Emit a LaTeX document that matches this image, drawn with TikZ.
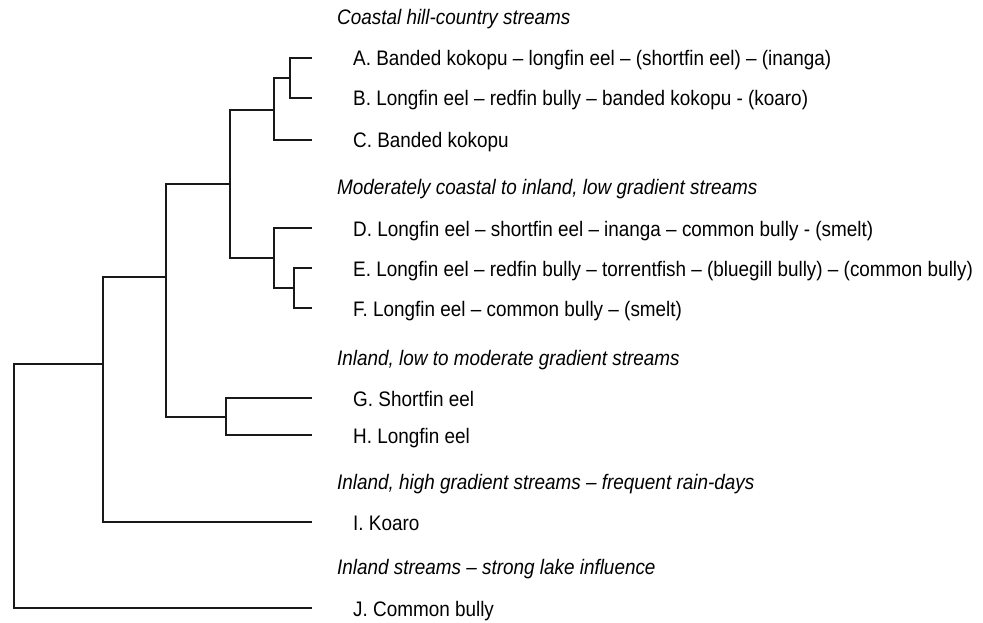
\documentclass[tikz,border=0pt]{standalone}
\usepackage{fontspec}
\setmainfont{Liberation Sans}[FakeStretch=0.90]
\begin{document}
\begin{tikzpicture}[x=1pt,y=-1pt,
  branch/.style={draw=black!90,line width=1.2pt},
  leaflabel/.style={anchor=base west,inner sep=0pt,font=\fontsize{21}{25}\selectfont},
  grouplabel/.style={anchor=base west,inner sep=0pt,font=\fontsize{21}{25}\selectfont\itshape}]
\useasboundingbox (0,0) rectangle (983,623);
% leaf ends
\coordinate (lA) at (312,58);
\coordinate (lB) at (312,98);
\coordinate (lC) at (312,140);
\coordinate (lD) at (312,228);
\coordinate (lE) at (312,268);
\coordinate (lF) at (312,308);
\coordinate (lG) at (312,398);
\coordinate (lH) at (312,435);
\coordinate (lI) at (312,522);
\coordinate (lJ) at (312,608);
% junctions
\coordinate (nAB) at (290,78);
\coordinate (nABC) at (274,110);
\coordinate (nEF) at (294,288);
\coordinate (nDEF) at (274,258);
\coordinate (n1) at (230,184);
\coordinate (nGH) at (226,417);
\coordinate (n2) at (166,277);
\coordinate (n3) at (103,364);
\coordinate (root) at (14,480);
% branches
\draw[branch] (nAB) |- (lA);
\draw[branch] (nAB) |- (lB);
\draw[branch] (nABC) |- (nAB);
\draw[branch] (nABC) |- (lC);
\draw[branch] (nEF) |- (lE);
\draw[branch] (nEF) |- (lF);
\draw[branch] (nDEF) |- (lD);
\draw[branch] (nDEF) |- (nEF);
\draw[branch] (n1) |- (nABC);
\draw[branch] (n1) |- (nDEF);
\draw[branch] (nGH) |- (lG);
\draw[branch] (nGH) |- (lH);
\draw[branch] (n2) |- (n1);
\draw[branch] (n2) |- (nGH);
\draw[branch] (n3) |- (n2);
\draw[branch] (n3) |- (lI);
\draw[branch] (root) |- (n3);
\draw[branch] (root) |- (lJ);
% group headings
\node[grouplabel] (g1) at (337,25) {Coastal hill-country streams};
\node[grouplabel] (g2) at (337,194) {Moderately coastal to inland, low gradient streams};
\node[grouplabel] (g3) at (337,365) {Inland, low to moderate gradient streams};
\node[grouplabel] (g4) at (337,489) {Inland, high gradient streams – frequent rain-days};
\node[grouplabel] (g5) at (337,574) {Inland streams – strong lake influence};
% leaf labels
\node[leaflabel] (tA) at ([xshift=41pt,yshift=-8pt]lA) {A. Banded kokopu – longfin eel – (shortfin eel) – (inanga)};
\node[leaflabel] (tB) at ([xshift=41pt,yshift=-8pt]lB) {B. Longfin eel – redfin bully – banded kokopu - (koaro)};
\node[leaflabel] (tC) at ([xshift=41pt,yshift=-8pt]lC) {C. Banded kokopu};
\node[leaflabel] (tD) at ([xshift=41pt,yshift=-8pt]lD) {D. Longfin eel – shortfin eel – inanga – common bully - (smelt)};
\node[leaflabel] (tE) at ([xshift=41pt,yshift=-8pt]lE) {E. Longfin eel – redfin bully – torrentfish – (bluegill bully) – (common bully)};
\node[leaflabel] (tF) at ([xshift=41pt,yshift=-8pt]lF) {F. Longfin eel – common bully – (smelt)};
\node[leaflabel] (tG) at ([xshift=41pt,yshift=-8pt]lG) {G. Shortfin eel};
\node[leaflabel] (tH) at ([xshift=41pt,yshift=-8pt]lH) {H. Longfin eel};
\node[leaflabel] (tI) at ([xshift=41pt,yshift=-8pt]lI) {I. Koaro};
\node[leaflabel] (tJ) at ([xshift=41pt,yshift=-8pt]lJ) {J. Common bully};
\end{tikzpicture}
\end{document}
